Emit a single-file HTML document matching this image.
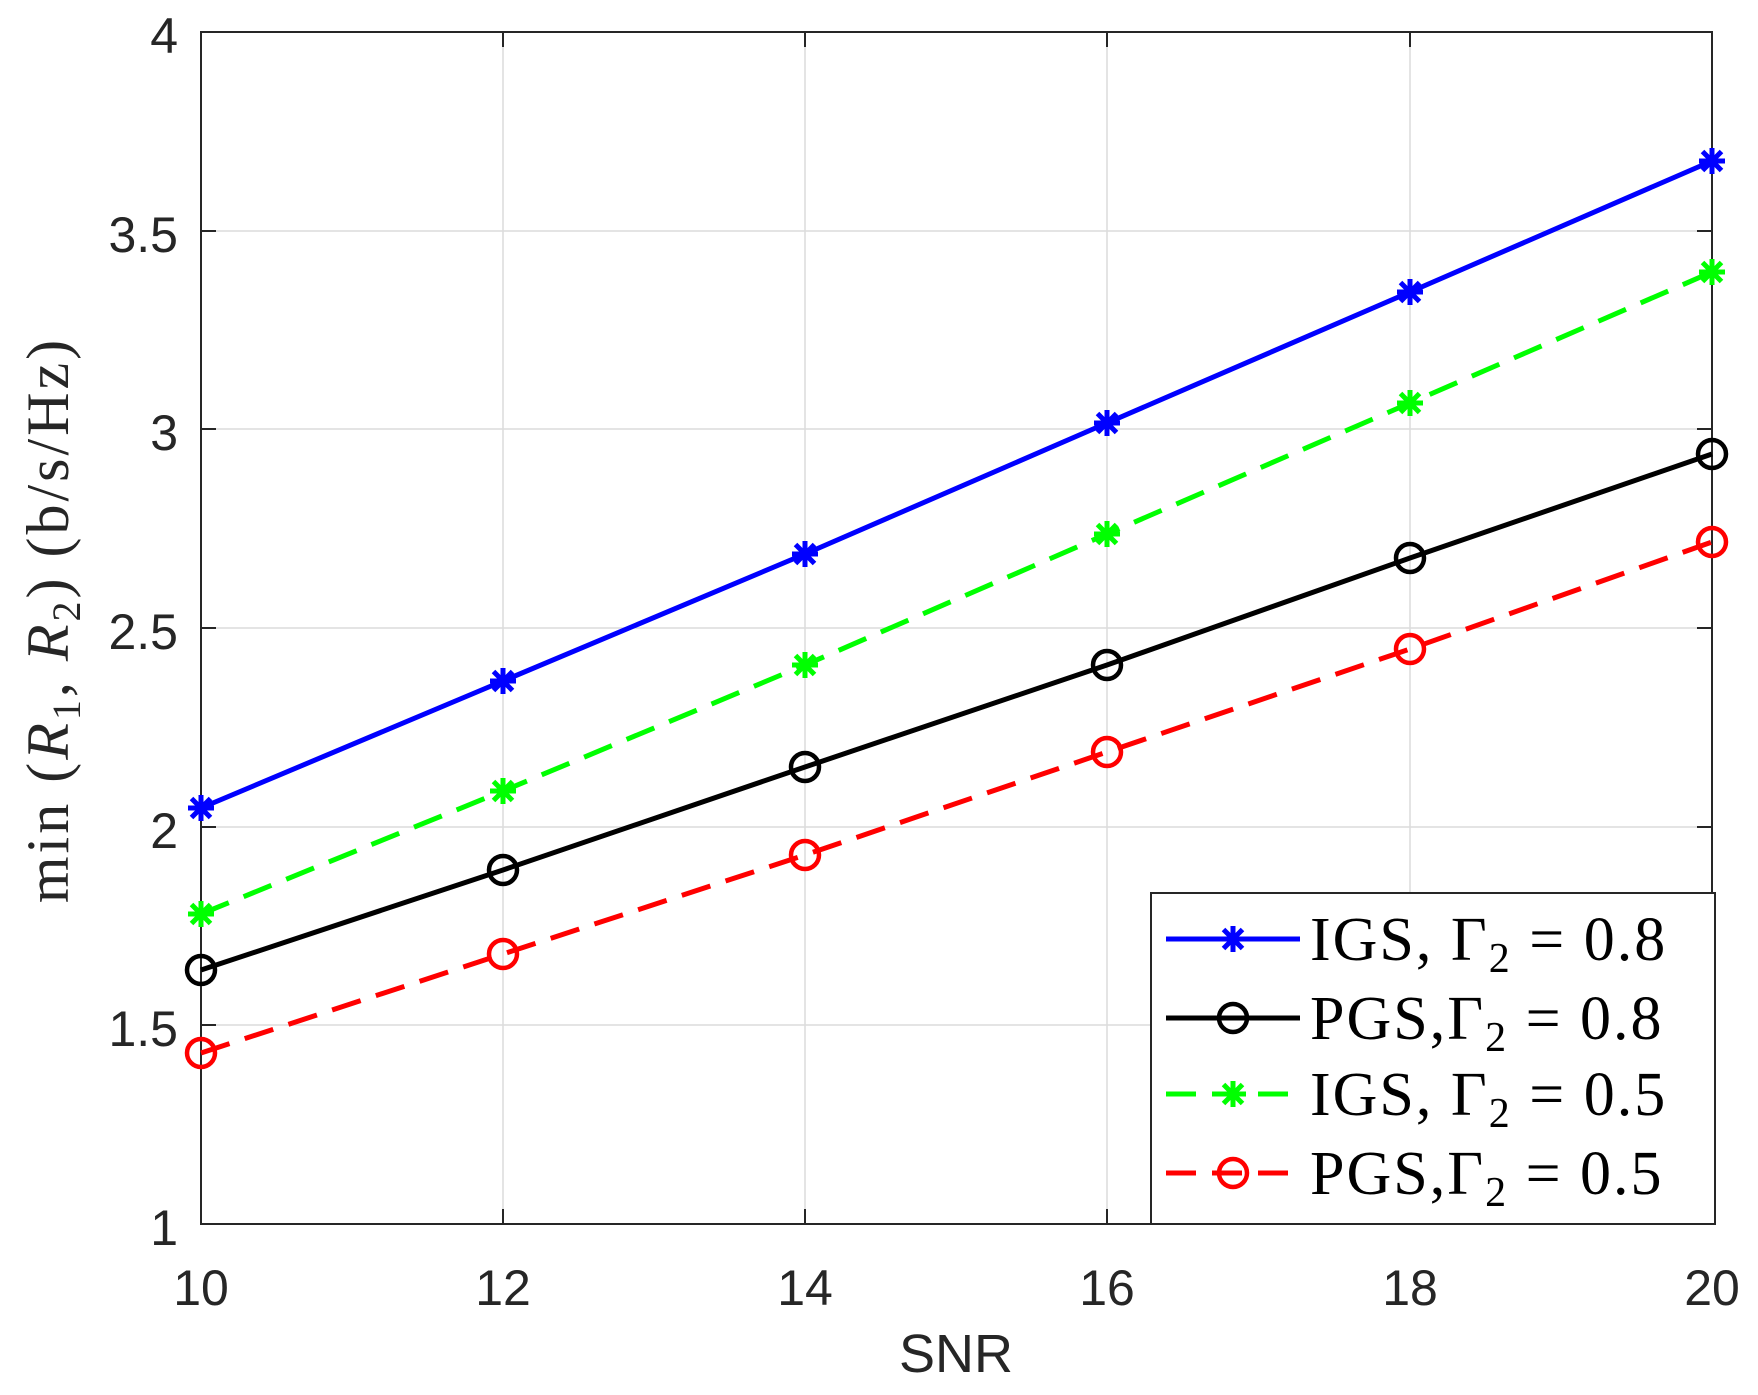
<!DOCTYPE html>
<html><head><style>body{margin:0;background:#fff}</style></head><body>
<svg width="1758" height="1390" viewBox="0 0 1758 1390" xmlns="http://www.w3.org/2000/svg">
<defs>
<g id="ast"><path d="M-13 0H13M0-13V13M-9.5-9.5L9.5 9.5M-9.5 9.5L9.5-9.5" stroke-width="5"/></g>
</defs>
<g stroke="#dcdcdc" stroke-width="1.5">
<line x1="503" y1="32" x2="503" y2="1224"/><line x1="805" y1="32" x2="805" y2="1224"/><line x1="1107" y1="32" x2="1107" y2="1224"/><line x1="1410" y1="32" x2="1410" y2="1224"/>
<line x1="201" y1="1025" x2="1712" y2="1025"/><line x1="201" y1="827" x2="1712" y2="827"/><line x1="201" y1="628" x2="1712" y2="628"/><line x1="201" y1="429" x2="1712" y2="429"/><line x1="201" y1="231" x2="1712" y2="231"/>
</g>
<g stroke="#262626" stroke-width="2">
<rect x="201" y="32" width="1511" height="1192" fill="none"/>
<path d="M503 1224v-15M805 1224v-15M1107 1224v-15M1410 1224v-15M503 32v15M805 32v15M1107 32v15M1410 32v15M201 1025h15M201 827h15M201 628h15M201 429h15M201 231h15M1712 1025h-15M1712 827h-15M1712 628h-15M1712 429h-15M1712 231h-15"/>
</g>
<g font-family="Liberation Sans, sans-serif" font-size="50" fill="#262626">
<g text-anchor="end"><text x="178" y="1245">1</text><text x="178" y="1046">1.5</text><text x="178" y="848">2</text><text x="178" y="649">2.5</text><text x="178" y="450">3</text><text x="178" y="252">3.5</text><text x="178" y="53">4</text></g>
<g text-anchor="middle"><text x="201" y="1305">10</text><text x="503" y="1305">12</text><text x="805" y="1305">14</text><text x="1107" y="1305">16</text><text x="1410" y="1305">18</text><text x="1712" y="1305">20</text>
<text x="956" y="1372" font-size="54">SNR</text></g>
</g>
<text transform="translate(68,620) rotate(-90)" text-anchor="middle" font-family="Liberation Serif, serif" font-size="60" letter-spacing="3" fill="#262626">min (<tspan font-style="italic">R</tspan><tspan font-size="40" dy="12">1</tspan><tspan dy="-12">, </tspan><tspan font-style="italic">R</tspan><tspan font-size="40" dy="12">2</tspan><tspan dy="-12">) (b/s/Hz)</tspan></text>
<g fill="none" stroke-width="5">
<polyline stroke="#0000ff" points="201,808 503,681 805,554 1107,423 1410,292 1712,161"/>
<polyline stroke="#00ff00" stroke-dasharray="30,16" points="201,914 503,791 805,665 1107,534 1410,403 1712,272"/>
<polyline stroke="#000" points="201,970 503,870 805,767 1107,665 1410,558 1712,454"/>
<polyline stroke="#ff0000" stroke-dasharray="30,16" points="201,1053 503,954 805,855 1107,752 1410,649 1712,542"/>
</g>
<g stroke="#0000ff"><use href="#ast" x="201" y="808"/><use href="#ast" x="503" y="681"/><use href="#ast" x="805" y="554"/><use href="#ast" x="1107" y="423"/><use href="#ast" x="1410" y="292"/><use href="#ast" x="1712" y="161"/></g>
<g stroke="#00ff00"><use href="#ast" x="201" y="914"/><use href="#ast" x="503" y="791"/><use href="#ast" x="805" y="665"/><use href="#ast" x="1107" y="534"/><use href="#ast" x="1410" y="403"/><use href="#ast" x="1712" y="272"/></g>
<g fill="none" stroke-width="4.5" stroke="#000"><circle cx="201" cy="970" r="14"/><circle cx="503" cy="870" r="14"/><circle cx="805" cy="767" r="14"/><circle cx="1107" cy="665" r="14"/><circle cx="1410" cy="558" r="14"/><circle cx="1712" cy="454" r="14"/></g>
<g fill="none" stroke-width="4.5" stroke="#ff0000"><circle cx="201" cy="1053" r="14"/><circle cx="503" cy="954" r="14"/><circle cx="805" cy="855" r="14"/><circle cx="1107" cy="752" r="14"/><circle cx="1410" cy="649" r="14"/><circle cx="1712" cy="542" r="14"/></g>
<rect x="1151" y="893" width="564" height="331" fill="#fff" stroke="#262626" stroke-width="2"/>
<g stroke-width="5" fill="none">
<line x1="1166" y1="939" x2="1300" y2="939" stroke="#0000ff"/>
<line x1="1166" y1="1018" x2="1300" y2="1018" stroke="#000"/>
<line x1="1166" y1="1094" x2="1300" y2="1094" stroke="#00ff00" stroke-dasharray="30,16"/>
<line x1="1166" y1="1173" x2="1300" y2="1173" stroke="#ff0000" stroke-dasharray="30,16"/>
<circle cx="1233" cy="1018" r="14" stroke="#000" stroke-width="4.5"/>
<circle cx="1233" cy="1173" r="14" stroke="#ff0000" stroke-width="4.5"/>
</g>
<use href="#ast" x="1233" y="939" stroke="#0000ff"/><use href="#ast" x="1233" y="1094" stroke="#00ff00"/>
<g font-family="Liberation Serif, serif" font-size="62" fill="#000" letter-spacing="2">
<text x="1310" y="960">IGS, Γ<tspan font-size="42" dy="12">2</tspan><tspan dy="-12"> = 0.8</tspan></text>
<text x="1310" y="1039">PGS,Γ<tspan font-size="42" dy="12">2</tspan><tspan dy="-12"> = 0.8</tspan></text>
<text x="1310" y="1115">IGS, Γ<tspan font-size="42" dy="12">2</tspan><tspan dy="-12"> = 0.5</tspan></text>
<text x="1310" y="1194">PGS,Γ<tspan font-size="42" dy="12">2</tspan><tspan dy="-12"> = 0.5</tspan></text>
</g>
</svg>
</body></html>
